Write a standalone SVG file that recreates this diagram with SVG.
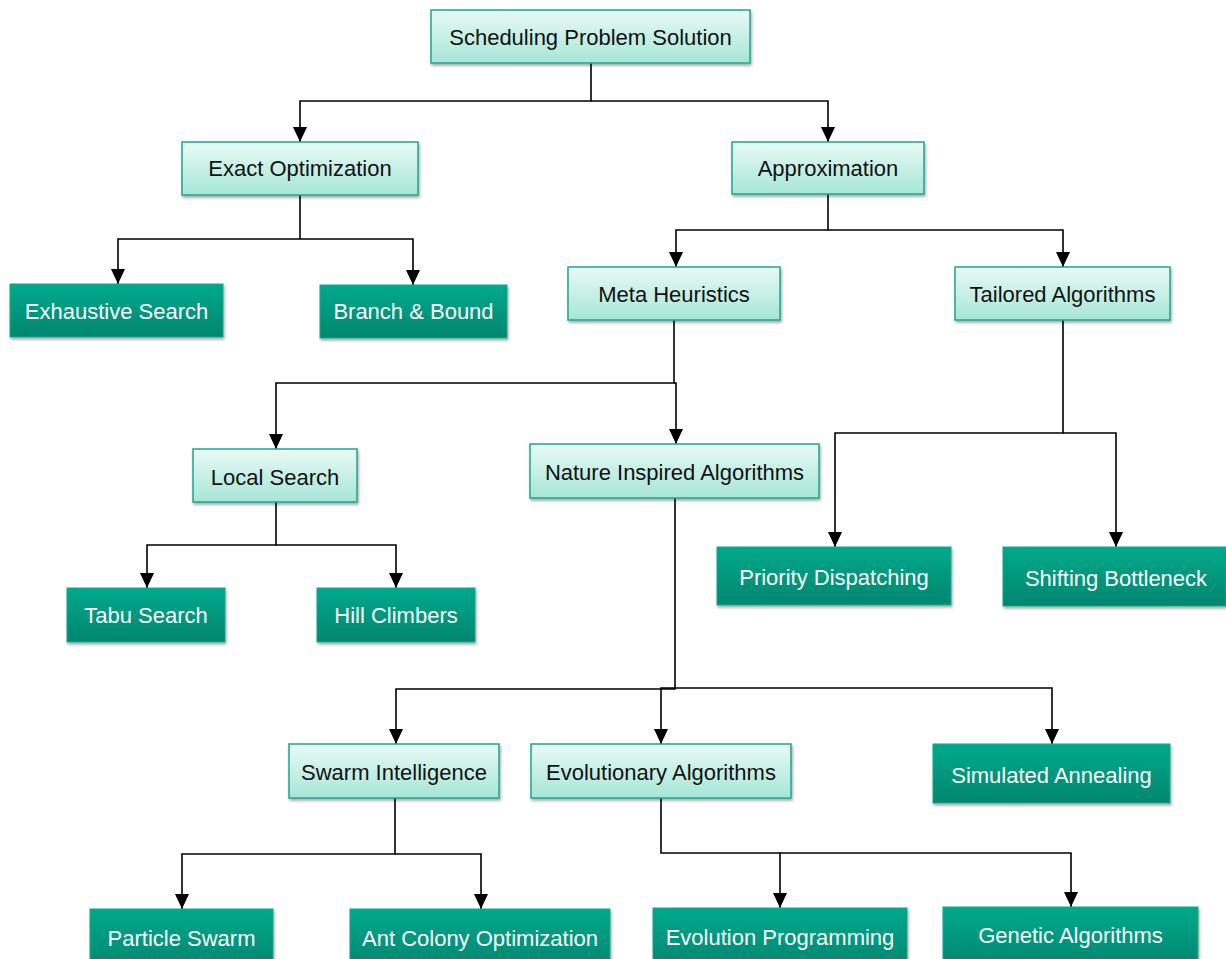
<svg xmlns="http://www.w3.org/2000/svg" width="1226" height="959" viewBox="0 0 1226 959">
  <style>
    .light rect { fill: url(#gLight); stroke: #1fa58e; stroke-width: 1.5; filter: url(#shadow); }
    .dark rect { fill: url(#gDark); stroke: #14a88e; stroke-width: 1; filter: url(#shadow); }
    text { font-family: "Liberation Sans", Arial, sans-serif; font-size: 22px; text-anchor: middle; }
    .light text { fill: #111; }
    .dark text { fill: #fff; }
    #connectors path { fill: none; stroke: #000; stroke-width: 1.6; }
  </style>
  <defs>
    <linearGradient id="gLight" x1="0" y1="0" x2="0" y2="1">
      <stop offset="0" stop-color="#e9faf6"/>
      <stop offset="1" stop-color="#a6e6d6"/>
    </linearGradient>
    <linearGradient id="gDark" x1="0" y1="0" x2="0" y2="1">
      <stop offset="0" stop-color="#00a98b"/>
      <stop offset="1" stop-color="#008670"/>
    </linearGradient>
    <filter id="shadow" x="-10%" y="-20%" width="120%" height="150%">
      <feDropShadow dx="1" dy="2" stdDeviation="1.5" flood-color="#000" flood-opacity="0.35"/>
    </filter>
    <!-- arrowhead drawn along +x, rotated to follow the final segment -->
    <marker id="arrow" viewBox="0 0 15 14" refX="15" refY="7" markerWidth="15" markerHeight="14" markerUnits="userSpaceOnUse" orient="auto">
      <path d="M0,0 L15,7 L0,14 Z" fill="#000"/>
    </marker>
  </defs>
  <rect width="1226" height="959" fill="#fff"/>

  <g id="connectors">
    <!-- root to first level -->
    <path d="M591,63 V101 H300 V142" marker-end="url(#arrow)"/>
    <path d="M591,101 H828 V142" marker-end="url(#arrow)"/>
    <!-- exact optimization -->
    <path d="M300,195 V239 H118 V284" marker-end="url(#arrow)"/>
    <path d="M300,239 H413 V285" marker-end="url(#arrow)"/>
    <!-- approximation -->
    <path d="M828,194 V230 H676 V267" marker-end="url(#arrow)"/>
    <path d="M828,230 H1063 V267" marker-end="url(#arrow)"/>
    <!-- meta heuristics -->
    <path d="M674,320 V383 H276 V449" marker-end="url(#arrow)"/>
    <path d="M674,383 H676 V444" marker-end="url(#arrow)"/>
    <!-- tailored algorithms -->
    <path d="M1063,320 V433 H835 V547" marker-end="url(#arrow)"/>
    <path d="M1063,433 H1116 V547" marker-end="url(#arrow)"/>
    <!-- local search -->
    <path d="M276,502 V545 H147 V588" marker-end="url(#arrow)"/>
    <path d="M276,545 H396 V588" marker-end="url(#arrow)"/>
    <!-- nature inspired -->
    <path d="M675,498 V689 H396 V744" marker-end="url(#arrow)"/>
    <path d="M675,688 H661 V744" marker-end="url(#arrow)"/>
    <path d="M675,688 H1052 V744" marker-end="url(#arrow)"/>
    <!-- swarm intelligence -->
    <path d="M395,798 V854 H182 V909" marker-end="url(#arrow)"/>
    <path d="M395,854 H481 V909" marker-end="url(#arrow)"/>
    <!-- evolutionary algorithms -->
    <path d="M661,798 V853 H780 V908" marker-end="url(#arrow)"/>
    <path d="M780,853 H1071 V907" marker-end="url(#arrow)"/>
  </g>

  <g id="root" class="light">
    <rect x="431" y="10" width="319" height="53"/>
    <text x="590.5" y="45">Scheduling Problem Solution</text>
  </g>
  <g id="exact" class="light">
    <rect x="182" y="142" width="236" height="53"/>
    <text x="300" y="176">Exact Optimization</text>
  </g>
  <g id="approx" class="light">
    <rect x="732" y="142" width="192" height="52"/>
    <text x="828" y="176">Approximation</text>
  </g>
  <g id="exhaustive" class="dark">
    <rect x="10" y="284" width="213" height="53"/>
    <text x="116.5" y="319">Exhaustive Search</text>
  </g>
  <g id="branch" class="dark">
    <rect x="320" y="285" width="187" height="53"/>
    <text x="413.5" y="319">Branch &amp; Bound</text>
  </g>
  <g id="meta" class="light">
    <rect x="568" y="267" width="212" height="53"/>
    <text x="674" y="302">Meta Heuristics</text>
  </g>
  <g id="tailored" class="light">
    <rect x="955" y="267" width="215" height="53"/>
    <text x="1062.5" y="302">Tailored Algorithms</text>
  </g>
  <g id="local" class="light">
    <rect x="193" y="449" width="164" height="53"/>
    <text x="275" y="485">Local Search</text>
  </g>
  <g id="nature" class="light">
    <rect x="530" y="444" width="289" height="54"/>
    <text x="674.5" y="480">Nature Inspired Algorithms</text>
  </g>
  <g id="priority" class="dark">
    <rect x="717" y="547" width="234" height="58"/>
    <text x="834" y="585">Priority Dispatching</text>
  </g>
  <g id="shifting" class="dark">
    <rect x="1003" y="547" width="223" height="59"/>
    <text x="1116" y="586">Shifting Bottleneck</text>
  </g>
  <g id="tabu" class="dark">
    <rect x="67" y="588" width="158" height="54"/>
    <text x="146" y="623">Tabu Search</text>
  </g>
  <g id="hill" class="dark">
    <rect x="317" y="588" width="158" height="54"/>
    <text x="396" y="623">Hill Climbers</text>
  </g>
  <g id="swarm" class="light">
    <rect x="289" y="744" width="210" height="54"/>
    <text x="394" y="780">Swarm Intelligence</text>
  </g>
  <g id="evolutionary" class="light">
    <rect x="531" y="744" width="260" height="54"/>
    <text x="661" y="780">Evolutionary Algorithms</text>
  </g>
  <g id="annealing" class="dark">
    <rect x="933" y="744" width="237" height="59"/>
    <text x="1051.5" y="783">Simulated Annealing</text>
  </g>
  <g id="particle" class="dark">
    <rect x="90" y="909" width="183" height="60"/>
    <text x="181.5" y="946">Particle Swarm</text>
  </g>
  <g id="antcolony" class="dark">
    <rect x="350" y="909" width="260" height="60"/>
    <text x="480" y="946">Ant Colony Optimization</text>
  </g>
  <g id="evoprog" class="dark">
    <rect x="653" y="908" width="254" height="60"/>
    <text x="780" y="945">Evolution Programming</text>
  </g>
  <g id="genetic" class="dark">
    <rect x="943" y="907" width="255" height="60"/>
    <text x="1070.5" y="943">Genetic Algorithms</text>
  </g>
</svg>
